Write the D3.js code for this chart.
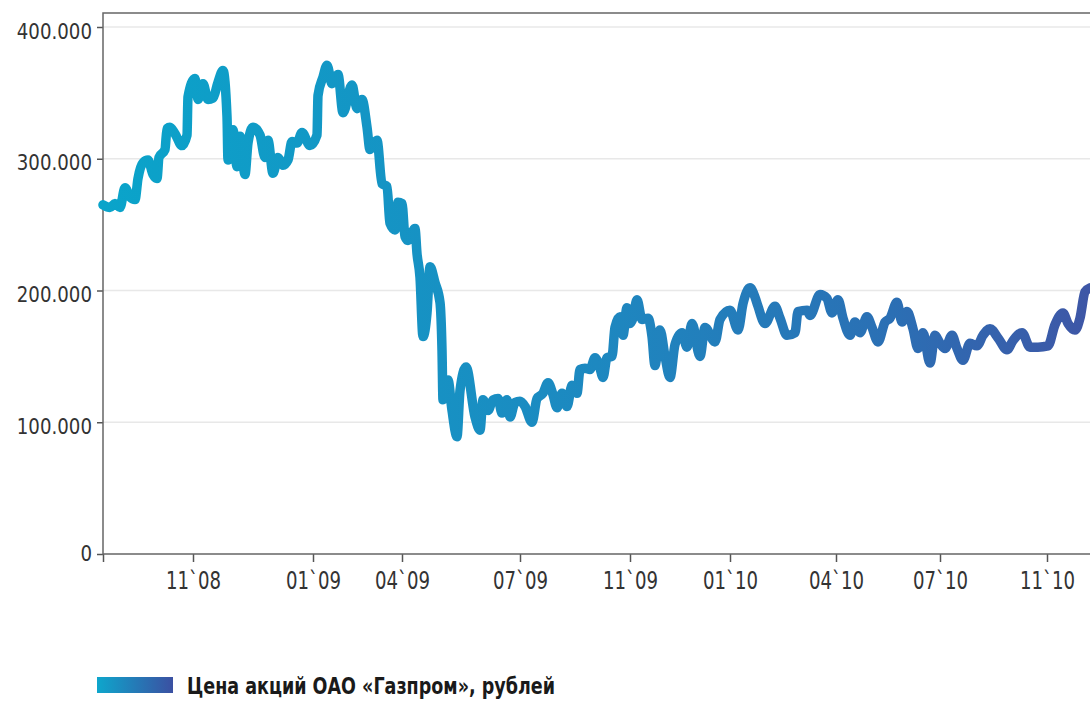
<!DOCTYPE html>
<html>
<head>
<meta charset="utf-8">
<script src="https://cdn.jsdelivr.net/npm/d3@7"></script>
<style>
	body { margin: 0; background: #fff; }
	text { font-family: "DejaVu Sans Condensed", "DejaVu Sans", sans-serif; }
</style>
</head>
<body>
<svg id="chart" width="1090" height="702"></svg>
<script>
// position of each reading along the session axis (0 = first session shown)
var sessions = [0, 7, 12, 17, 22, 27, 32, 35, 40, 45, 50, 54, 56, 62, 64, 67, 72, 79, 84, 85,
	92, 95, 100, 105, 110, 115, 120, 124, 125, 130, 134, 137, 142, 145, 150, 157, 162, 165, 170, 175,
	180, 185, 189, 194, 199, 207, 214, 215, 220, 224, 229, 235, 240, 249, 254, 259, 264, 267, 274, 279,
	284, 287, 292, 295, 299, 302, 305, 312, 314, 317, 320, 324, 327, 332, 337, 339, 340, 345, 349, 354,
	357, 363, 372, 377, 380, 385, 390, 395, 399, 404, 407, 412, 417, 422, 429, 434, 440, 445, 450, 454,
	459, 464, 469, 474, 477, 482, 487, 492, 497, 500, 504, 509, 512, 517, 520, 524, 527, 530, 534, 539,
	545, 549, 552, 557, 562, 567, 572, 579, 584, 589, 597, 602, 612, 617, 627, 635, 640, 647, 652, 655,
	662, 672, 677, 684, 692, 695, 704, 707, 717, 724, 729, 735, 740, 747, 752, 757, 764, 769, 775, 782,
	787, 794, 799, 804, 810, 815, 820, 827, 832, 837, 842, 849, 854, 860, 867, 874, 880, 887, 895, 904,
	910, 919, 927, 935, 945, 952, 960, 965, 972, 977, 982, 987];

// share price, roubles
var prices = [265, 263, 266, 263, 278, 271, 269, 285, 297, 299, 288, 285, 301, 307, 323, 324, 319, 310, 318, 347,
	361, 345, 357, 345, 346, 358, 367, 332, 299, 322, 294, 317, 288, 312, 324, 318, 301, 314, 289, 301,
	295, 299, 313, 312, 320, 310, 318, 348, 362, 371, 357, 364, 335, 356, 338, 345, 324, 307, 314, 281,
	279, 251, 246, 267, 266, 241, 238, 247, 228, 210, 165, 183, 218, 206, 191, 155, 117, 132, 109, 89,
	124, 142, 104, 94, 117, 109, 117, 118, 107, 117, 104, 115, 116, 112, 100, 118, 122, 130, 121, 111,
	122, 112, 128, 122, 140, 141, 140, 149, 141, 134, 149, 150, 172, 180, 166, 187, 175, 179, 193, 178,
	179, 165, 143, 170, 150, 134, 159, 168, 157, 175, 150, 172, 161, 178, 185, 170, 190, 202, 195, 188,
	175, 188, 179, 166, 168, 184, 185, 181, 197, 194, 183, 193, 179, 166, 176, 168, 180, 172, 161, 176,
	179, 191, 176, 184, 171, 156, 168, 145, 166, 160, 156, 166, 156, 147, 160, 158, 166, 171, 164, 155,
	162, 168, 157, 157, 158, 174, 183, 175, 170, 179, 199, 202];

var tickSessions = [0, 90, 210, 299, 417, 527, 627, 733, 837, 944];
var tickLabels = ["", "11`08", "01`09", "04`09", "07`09", "11`09", "01`10", "04`10", "07`10", "11`10"];
var yTicks = [0, 100, 200, 300, 400];
var seriesName = "Цена акций ОАО «Газпром», рублей";

var margin = { top: 13, left: 103, right: 0, bottom: 148 },
	width = 1090,
	height = 702;

var svg = d3.select("#chart");

var x = d3.scaleLinear()
	.domain([0, 987])
	.range([margin.left, width - margin.right]);

var y = d3.scaleLinear()
	.domain([0, 400])
	.range([height - margin.bottom, 27]);

var fmt = d3.formatLocale({ decimal: ".", thousands: " ", grouping: [3], currency: ["", ""] }).format(".3f");

/* gradients for the line and the legend swatch */
var defs = svg.append("defs");

var lineGrad = defs.append("linearGradient")
	.attr("id", "lineGrad")
	.attr("gradientUnits", "userSpaceOnUse")
	.attr("x1", x(0)).attr("x2", x(987))
	.attr("y1", 0).attr("y2", 0);
lineGrad.selectAll("stop")
	.data([[0, "#0aa4ca"], [0.5, "#1d88c0"], [0.8, "#2b6fb4"], [1, "#3e56a6"]])
	.enter().append("stop")
	.attr("offset", function(d) { return d[0]; })
	.attr("stop-color", function(d) { return d[1]; });

var legGrad = defs.append("linearGradient")
	.attr("id", "legGrad");
legGrad.selectAll("stop")
	.data([[0, "#0ea6cc"], [1, "#3b50a2"]])
	.enter().append("stop")
	.attr("offset", function(d) { return d[0]; })
	.attr("stop-color", function(d) { return d[1]; });

// horizontal gridlines
svg.append("g")
	.selectAll("line")
	.data(yTicks.filter(function(d) { return d > 0; }))
	.enter().append("line")
	.attr("x1", x(0))
	.attr("x2", x(987))
	.attr("y1", function(d) { return y(d); })
	.attr("y2", function(d) { return y(d); })
	.style("stroke", "#e8e8e8")
	.style("stroke-width", 1.5);

// left axis
var yAxis = svg.append("g")
	.attr("transform", "translate(" + margin.left + ",0)")
	.call(d3.axisLeft(y)
		.tickValues(yTicks)
		.tickSize(6)
		.tickFormat(function(d) { return d === 0 ? "0" : fmt(d); }));
yAxis.select(".domain").remove();
yAxis.selectAll(".tick line").style("stroke", "#555").style("stroke-width", 1.5);
yAxis.selectAll(".tick text")
	.attr("x", -12)
	.attr("dy", function(d) { return d === 0 ? "0.3em" : "0.5em"; })
	.attr("transform", "scale(0.92,1)")
	.style("font-size", "22px")
	.style("fill", "#333");

// bottom axis
var xAxis = svg.append("g")
	.attr("transform", "translate(0," + y(0) + ")")
	.call(d3.axisBottom(x)
		.tickValues(tickSessions)
		.tickSize(8)
		.tickFormat(function(d, i) { return tickLabels[i]; }));
xAxis.select(".domain").remove();
xAxis.selectAll(".tick line").style("stroke", "#555").style("stroke-width", 1.5);
xAxis.selectAll(".tick text")
	.attr("y", 18)
	.attr("transform", "scale(0.84,1)")
	.style("font-size", "24px")
	.style("fill", "#333");

// frame: top, left and bottom edges
svg.append("path")
	.attr("d", "M" + x(987) + "," + margin.top + "H" + x(0) + "V" + y(0) + "H" + x(987))
	.style("fill", "none")
	.style("stroke", "#666")
	.style("stroke-width", 1.5);

// price line
var line = d3.line()
	.x(function(d, i) { return x(sessions[i]); })
	.y(function(d) { return y(d); })
	.curve(d3.curveMonotoneX);

svg.append("path")
	.datum(prices)
	.attr("d", line)
	.style("fill", "none")
	.style("stroke", "url(#lineGrad)")
	.style("stroke-width", 9.5)
	.style("stroke-linejoin", "round")
	.style("stroke-linecap", "round");

// legend
var legend = svg.append("g")
	.attr("transform", "translate(97,677)");

legend.append("rect")
	.attr("width", 76)
	.attr("height", 16)
	.style("fill", "url(#legGrad)");

legend.append("text")
	.attr("x", 90)
	.attr("y", 17)
	.attr("textLength", 368)
	.attr("lengthAdjust", "spacingAndGlyphs")
	.style("font-size", "23px")
	.style("font-weight", "bold")
	.style("fill", "#1a1a1a")
	.text(seriesName);
</script>
</body>
</html>
